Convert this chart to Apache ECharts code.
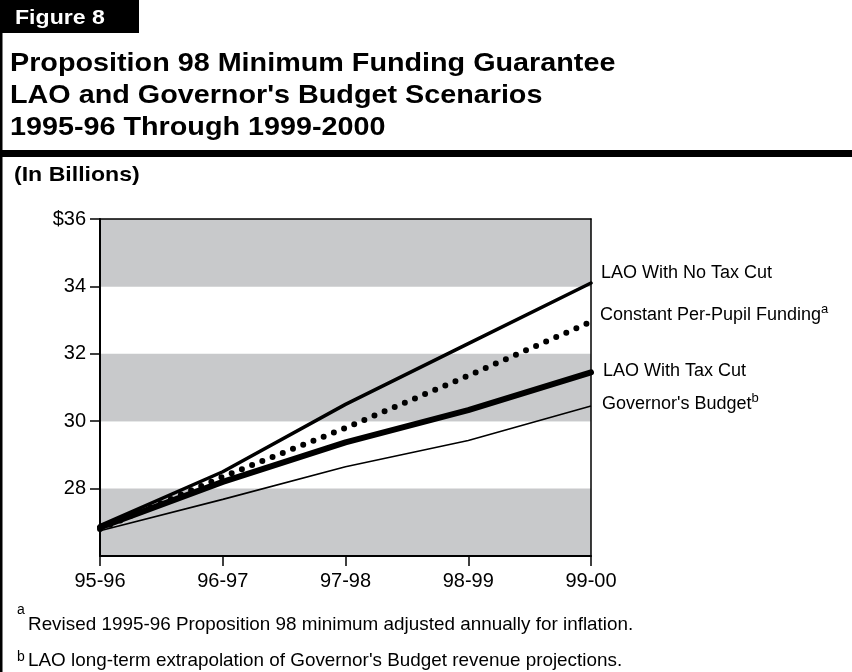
<!DOCTYPE html>
<html>
<head>
<meta charset="utf-8">
<script src="https://cdn.jsdelivr.net/npm/echarts@6/dist/echarts.min.js"></script>
<style>
  html, body { margin: 0; padding: 0; background: #fff; }
  #chart { width: 852px; height: 672px; }
</style>
</head>
<body>
<div id="chart"></div>
<script>
var years = ['95-96', '96-97', '97-98', '98-99', '99-00'];
var noTaxCut = [26.9, 28.5, 30.5, 32.3, 34.1];
var perPupil = [26.8, 28.35, 29.8, 31.35, 32.95];
var taxCut = [26.85, 28.2, 29.37, 30.33, 31.45];
var govBudget = [26.75, 27.68, 28.65, 29.43, 30.45];
var yTicks = [28, 30, 32, 34, 36];

var font = '"Liberation Sans", Arial, Helvetica, sans-serif';
var bandGray = '#c8c9cb';

var chart = echarts.init(document.getElementById('chart'));

function txt(x, y, text, size, bold, sx, color) {
	return {
		type: 'text', x: x, y: y, scaleX: sx || 1,
		style: {
			text: text, fill: color || '#000',
			font: (bold ? 'bold ' : '') + size + 'px ' + font,
			verticalAlign: 'middle'
		}
	};
}

function supText(x, y, main, sup) {
	return {
		type: 'text', x: x, y: y,
		style: {
			text: '{t|' + main + '}' + (sup ? '{s|' + sup + '}' : ''),
			verticalAlign: 'middle',
			rich: {
				t: { fontSize: 18, fontFamily: font, fill: '#000', lineHeight: 24 },
				s: { fontSize: 13, fontFamily: font, fill: '#000', verticalAlign: 'top', lineHeight: 24 }
			}
		}
	};
}

var frameAxis = {
	axisLine: { show: true, lineStyle: { color: '#000', width: 1.5 } },
	axisTick: { show: false },
	axisLabel: { show: false },
	splitLine: { show: false },
	splitArea: { show: false }
};

var option = {
	animation: false,
	backgroundColor: '#fff',
	grid: {
		left: 100, right: 261, top: 219, bottom: 116,
		show: true, backgroundColor: bandGray, borderWidth: 0
	},
	xAxis: [{
		type: 'category',
		data: years,
		boundaryGap: false,
		axisLine: { lineStyle: { color: '#000', width: 2 } },
		axisTick: { inside: false, length: 10, lineStyle: { color: '#000', width: 1.5 } },
		axisLabel: { color: '#000', fontSize: 20, fontFamily: font, margin: 15 },
		splitLine: { show: false }
	}, Object.assign({ type: 'category', data: years, boundaryGap: false, position: 'top' }, frameAxis)],
	yAxis: [{
		type: 'value',
		min: 26, max: 36, interval: 2,
		axisLine: { show: true, lineStyle: { color: '#000', width: 2 } },
		axisTick: { show: true, length: 10, customValues: yTicks, lineStyle: { color: '#000', width: 1.5 } },
		axisLabel: {
			color: '#000', fontSize: 20, fontFamily: font, margin: 14,
			customValues: yTicks,
			formatter: function (v) { return v === 36 ? '$36' : String(v); }
		},
		splitLine: { show: false },
		splitArea: { show: true, areaStyle: { color: ['#ffffff', bandGray] } }
	}, Object.assign({ type: 'value', min: 26, max: 36, interval: 2, position: 'right' }, frameAxis)],
	series: [
		{
			name: "Governor's Budget", type: 'line', data: govBudget,
			symbol: 'none', z: 3,
			lineStyle: { color: '#000', width: 1.6 }
		},
		{
			name: 'LAO With Tax Cut', type: 'line', data: taxCut,
			symbol: 'none', z: 4,
			lineStyle: { color: '#000', width: 6, cap: 'round', join: 'round' }
		},
		{
			name: 'LAO With No Tax Cut', type: 'line', data: noTaxCut,
			symbol: 'none', z: 5,
			lineStyle: { color: '#000', width: 3.5, cap: 'round' }
		},
		{
			name: 'Constant Per-Pupil Funding', type: 'line', data: perPupil,
			symbol: 'none', z: 6,
			lineStyle: { color: '#000', width: 6, type: [0, 11], cap: 'round' }
		}
	],
	graphic: [
		{ type: 'rect', shape: { x: 0, y: 0, width: 139, height: 33 }, style: { fill: '#000' } },
		{ type: 'rect', shape: { x: 0, y: 0, width: 2.5, height: 672 }, style: { fill: '#000' } },
		{ type: 'rect', shape: { x: 0, y: 150, width: 852, height: 7 }, style: { fill: '#000' } },
		txt(15, 18, 'Figure 8', 21, true, 1.1, '#fff'),
		txt(10, 64, 'Proposition 98 Minimum Funding Guarantee', 25, true, 1.15),
		txt(10, 96, "LAO and Governor's Budget Scenarios", 25, true, 1.15),
		txt(10, 128, '1995-96 Through 1999-2000', 25, true, 1.15),
		txt(14, 175, '(In Billions)', 21, true, 1.1),
		supText(601, 273, 'LAO With No Tax Cut'),
		supText(600, 315, 'Constant Per-Pupil Funding', 'a'),
		supText(603, 371, 'LAO With Tax Cut'),
		supText(602, 404, "Governor's Budget", 'b'),
		txt(17, 610, 'a', 14, false),
		txt(28, 625, 'Revised 1995-96 Proposition 98 minimum adjusted annually for inflation.', 18.5, false, 1.02),
		txt(17, 657, 'b', 14, false),
		txt(28, 661, "LAO long-term extrapolation of Governor's Budget revenue projections.", 18.5, false, 1.02)
	]
};

chart.setOption(option);
</script>
</body>
</html>
